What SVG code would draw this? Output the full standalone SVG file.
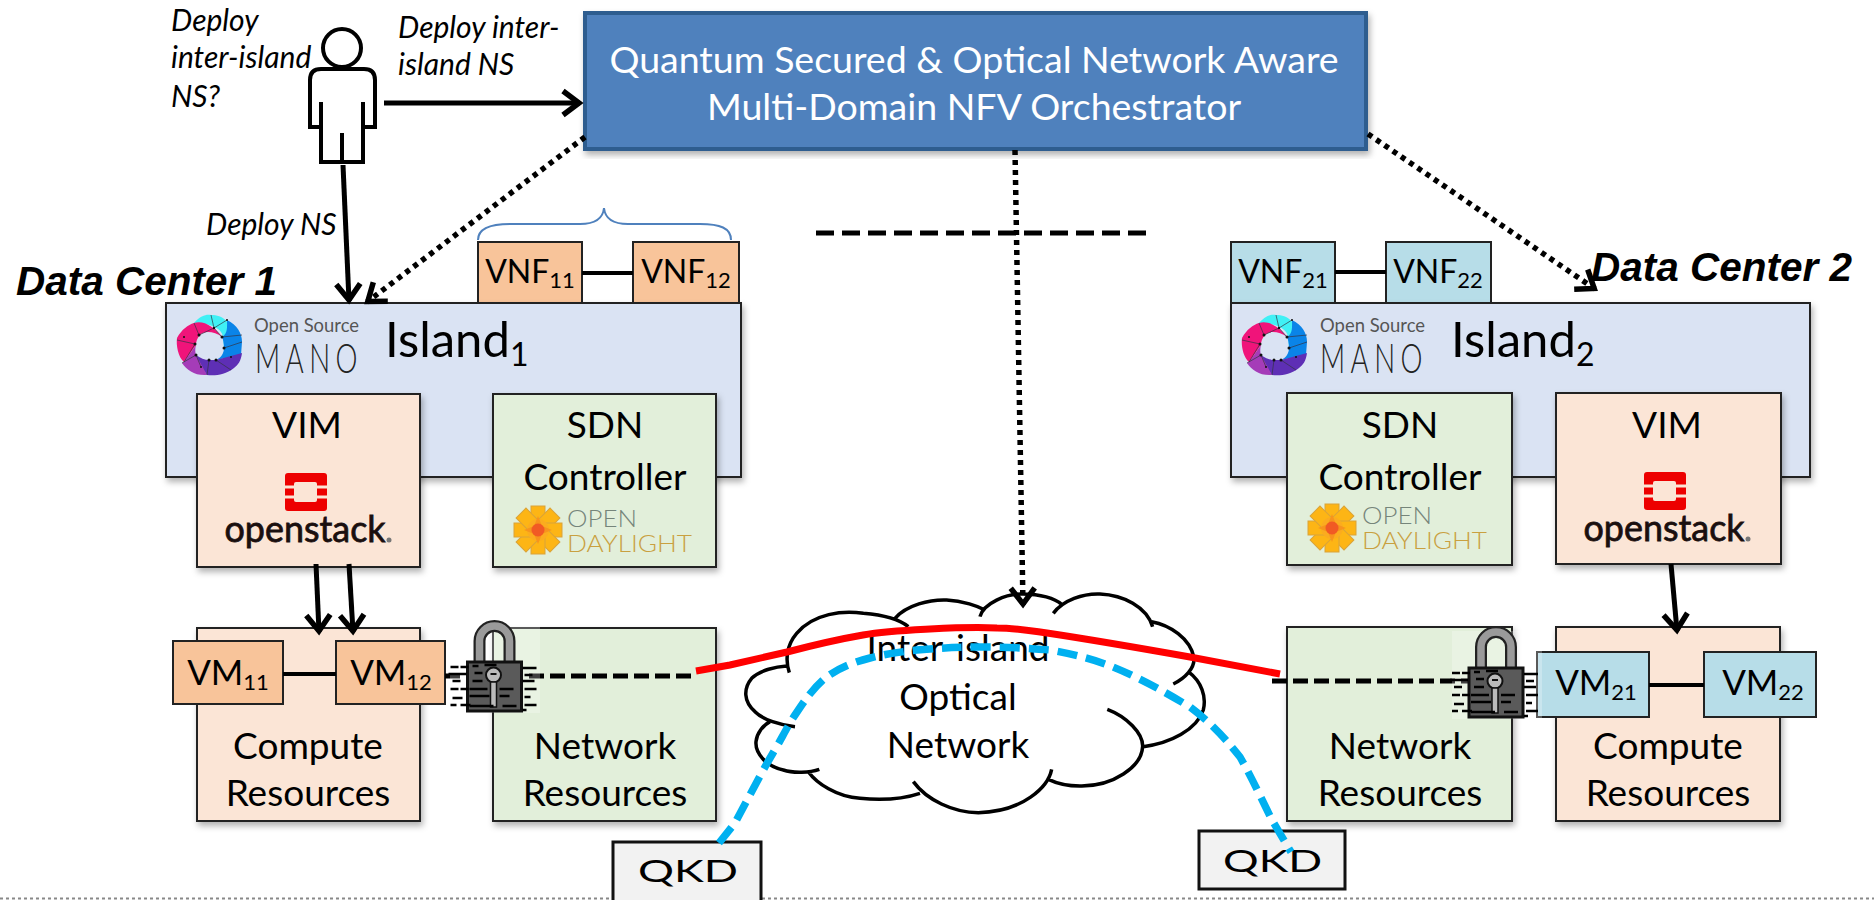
<svg xmlns="http://www.w3.org/2000/svg" width="1874" height="900" viewBox="0 0 1874 900">
<defs>
<style>
text{font-family:"Lato","Open Sans","Liberation Sans",sans-serif;fill:#000}
.l{font-size:37px;text-anchor:middle}
.v{font-size:32px;text-anchor:middle}
.m{font-size:35px;text-anchor:middle}
.i{font-size:30px;font-style:italic}
.b{font-family:"Liberation Sans",Arial,sans-serif;font-size:40.5px;font-weight:bold;font-style:italic}
.box{stroke:#222;stroke-width:2}
.island{fill:#dae3f3}.res{fill:#fbe5d6}.net{fill:#e2efda}.or{fill:#f8c49a}.bl{fill:#b7dde8}
.ln{fill:none;stroke:#000;stroke-width:5}
.th{fill:none;stroke:#000;stroke-width:4}
.dot{fill:none;stroke:#000;stroke-width:5.5;stroke-dasharray:5 5}
.dash{fill:none;stroke:#000;stroke-width:5;stroke-dasharray:15 6}
.cl{fill:none;stroke:#000;stroke-width:10.5;stroke-linecap:butt}
.sub{font-size:22px}
.os{font-size:19px;fill:#555}
.mn{font-size:41px;font-weight:300;letter-spacing:8px;fill:#222}
.is{font-size:49px}
.is2{font-size:32px}
.od1{font-size:23px;font-weight:300;fill:#76857a}
.od2{font-size:23px;font-weight:300;fill:#c9a040}
.ost{font-size:37px;text-anchor:middle;fill:#1a0f0f;stroke:#1a0f0f;stroke-width:.8}
.q{font-size:31px}
.qbox{fill:#f2f2f2;stroke:#111;stroke-width:3}
</style>
<marker id="a" markerUnits="userSpaceOnUse" markerWidth="34" markerHeight="34" refX="23" refY="13" orient="auto" overflow="visible"><path d="M6 1L22 13L6 25" fill="none" stroke="#000" stroke-width="5.5"/></marker>
<filter id="s" x="-5%" y="-5%" width="112%" height="112%"><feDropShadow dx="2" dy="4" stdDeviation="3" flood-color="#000" flood-opacity=".3"/></filter>
<g id="osm">
<path d="M14 -8C13 -18 -2 -22 -15 -22C-8 -30 -2 -31 2 -30C14 -30 22 -24 27 -3L15 3Z" fill="#40f0f5"/>
<path d="M18 -25C28 -20 33 -12 33 -3L32 10L7 15C12 13 15 8 15 3C15 -2 14 -6 13 -8C19 -12 18 -18 18 -25Z" fill="#0a84e8"/>
<path d="M0 15C4 15 6 15 7 15L33 8C32 16 29 20 25 23C16 30 6 31 -2 30L-8 22L-13 10C-9 13 -4 15 0 15Z" fill="#5e2fb5"/>
<path d="M-13 0C-14 4 -14 7 -13 10L-2 30C-14 31 -22 25 -27 18L-25 17Z" fill="#a53cb8"/>
<path d="M-32 -7C-27 -16 -21 -20 -15 -22C-5 -25 5 -18 13 -8C6 -13 -4 -15 -9 -10C-12 -7 -13 -3 -13 0L-25 17C-31 12 -33 0 -32 -7Z" fill="#f0147a"/>
<path d="M-32 -5L-14 -1L-25 17M-15 -22L-10 -10L5 -17L13 -8L33 -10M2 -30L5 -17L18 -25M15 3L33 -3M7 15L22 25M0 15L-2 30M-13 10L-27 18M-8 22L-13 10" fill="none" stroke="#334" stroke-width=".7"/>
<g fill="#111"><circle cx="-14" cy="-1" r="1.5"/><circle cx="-10" cy="-10" r="1.5"/><circle cx="5" cy="-17" r="1.2"/><circle cx="13" cy="-8" r="1.5"/><circle cx="15" cy="3" r="1.5"/><circle cx="7" cy="15" r="1.5"/><circle cx="0" cy="15" r="1.5"/><circle cx="-13" cy="10" r="1.5"/><circle cx="18" cy="-25" r="1"/><circle cx="22" cy="12" r="1"/><circle cx="-8" cy="22" r="1"/><circle cx="-25" cy="-8" r="1"/></g>
</g>
<g id="lock">
<path d="M-15 36V15A15 15 0 0 1 15 15V36" fill="none" stroke="#222" stroke-width="12"/>
<path d="M-15 36V15A15 15 0 0 1 15 15V36" fill="none" stroke="#9a9a9a" stroke-width="7.5"/>
<rect x="-27" y="36" width="54" height="49" fill="#5a5a5a" stroke="#111" stroke-width="3"/>
<circle cx="-1" cy="49" r="7.5" fill="#bbb" stroke="#111" stroke-width="2"/>
<path d="M-4 48h6" stroke="#111" stroke-width="2"/>
<rect x="-4" y="56" width="6" height="25" fill="#bbb" stroke="#111" stroke-width="1.5"/>
<path d="M-44 41h8M-34 41h8M-46 48h18M-42 55h8M-44 63h8M-34 63h8M-42 72h10M-44 79h6M-34 79h10M-22 40h6M-20 47h8M-22 55h10M-25 63h18M-25 70h20M-25 80h24M-10 39h12M5 63h14M5 70h10M8 80h14M28 42h14M30 49h8M28 55h12M30 63h12M30 71h6M30 79h12M28 84h4" stroke="#000" stroke-width="2.5" fill="none"/>
</g>
<g id="star">
<g fill="#fdb515" stroke="#d9a33a" stroke-width="1">
<rect x="-7" y="-24" width="14" height="17"/><rect x="-7" y="-24" width="14" height="17" transform="rotate(45)"/><rect x="-7" y="-24" width="14" height="17" transform="rotate(90)"/><rect x="-7" y="-24" width="14" height="17" transform="rotate(135)"/><rect x="-7" y="-24" width="14" height="17" transform="rotate(180)"/><rect x="-7" y="-24" width="14" height="17" transform="rotate(225)"/><rect x="-7" y="-24" width="14" height="17" transform="rotate(270)"/><rect x="-7" y="-24" width="14" height="17" transform="rotate(315)"/>
</g>
<circle r="11" fill="#fbac1f"/><path d="M0 -14L4 -4L14 0L4 4L0 14L-4 4L-14 0L-4 -4Z" fill="#f7941d"/><circle r="6.5" fill="#f15a24"/>
</g>
<g id="ostack">
<rect x="-21" y="-19" width="42" height="38" rx="3" fill="#ed0000"/>
<rect x="-12" y="-10" width="23" height="20" rx="2" fill="#fbe5d6"/>
<path d="M-21 -5H-12M-21 5H-12M11 -5H21M11 5H21" stroke="#fbe5d6" stroke-width="3"/>
</g>
</defs>
<path d="M0 898.5H1874" stroke="#888" stroke-width="2" stroke-dasharray="3 3"/>
<g id="orchestrator"><rect x="585" y="13" width="781" height="136" fill="#4f81bd" stroke="#2e5d8f" stroke-width="4" filter="url(#s)"/><text x="974" y="73" text-anchor="middle" font-size="37.5" style="fill:#fff">Quantum Secured &amp; Optical Network Aware</text><text x="974" y="120" text-anchor="middle" font-size="37.5" style="fill:#fff">Multi-Domain NFV Orchestrator</text></g>
<g id="user"><circle cx="342" cy="48" r="19" fill="none" stroke="#000" stroke-width="4"/><path d="M321 102V127H310V80Q310 69 321 69H364Q375 69 375 80V127H363V102M363 127V162H321V127M342 133V162" fill="none" stroke="#000" stroke-width="4"/></g>
<g id="labels"><text class="i" x="171" y="31">Deploy</text><text class="i" x="171" y="68">inter-island</text><text class="i" x="171" y="107">NS?</text><text class="i" x="398" y="38">Deploy inter-</text><text class="i" x="398" y="75">island NS</text><text class="i" x="206" y="235">Deploy NS</text><text class="b" x="16" y="295">Data Center 1</text><text class="b" x="1591" y="281">Data Center 2</text></g>
<g id="vnf11"><rect class="box or" x="478" y="242" width="104" height="61"/><text class="v" x="530" y="283">VNF<tspan class="sub" dy="5">11</tspan></text></g>
<g id="vnf12"><rect class="box or" x="633" y="242" width="106" height="61"/><text class="v" x="686" y="283">VNF<tspan class="sub" dy="5">12</tspan></text></g>
<g id="vnf21"><rect class="box bl" x="1231" y="242" width="104" height="61"/><text class="v" x="1283" y="283">VNF<tspan class="sub" dy="5">21</tspan></text></g>
<g id="vnf22"><rect class="box bl" x="1386" y="242" width="105" height="61"/><text class="v" x="1438" y="283">VNF<tspan class="sub" dy="5">22</tspan></text></g>
<path d="M478 240C478 228 490 224 510 224H580C595 224 603 218 604 208C605 218 613 224 628 224H700C720 224 731 228 731 240" fill="none" stroke="#4f81bd" stroke-width="2"/>
<g id="island1"><rect class="box island" x="166" y="303" width="575" height="174" filter="url(#s)"/><use href="#osm" x="209" y="345"/><text class="os" x="254" y="332" textLength="105" lengthAdjust="spacingAndGlyphs">Open Source</text><text class="mn" x="255" y="373" textLength="108" lengthAdjust="spacingAndGlyphs">MANO</text><text class="is" x="385" y="357">Island<tspan class="is2" dy="9">1</tspan></text></g>
<g id="island2"><rect class="box island" x="1231" y="303" width="579" height="174" filter="url(#s)"/><use href="#osm" x="1274" y="345"/><text class="os" x="1320" y="332" textLength="105" lengthAdjust="spacingAndGlyphs">Open Source</text><text class="mn" x="1320" y="373" textLength="108" lengthAdjust="spacingAndGlyphs">MANO</text><text class="is" x="1451" y="357">Island<tspan class="is2" dy="9">2</tspan></text></g>
<g id="vim1"><rect class="box res" x="197" y="394" width="223" height="173" filter="url(#s)"/><text class="l" x="307" y="438">VIM</text><use href="#ostack" x="306" y="492"/><text class="ost" x="305" y="542" textLength="161" lengthAdjust="spacingAndGlyphs">openstack</text><circle cx="389" cy="540" r="2.5" fill="#777"/></g>
<g id="vim2"><rect class="box res" x="1556" y="393" width="225" height="171" filter="url(#s)"/><text class="l" x="1667" y="438">VIM</text><use href="#ostack" x="1665" y="491"/><text class="ost" x="1664" y="541" textLength="161" lengthAdjust="spacingAndGlyphs">openstack</text><circle cx="1748" cy="539" r="2.5" fill="#777"/></g>
<g id="sdn1"><rect class="box net" x="493" y="394" width="223" height="173" filter="url(#s)"/><text class="l" x="605" y="438">SDN</text><text class="l" x="605" y="490">Controller</text><use href="#star" x="538" y="530"/><text class="od1" x="567" y="527" textLength="70" lengthAdjust="spacingAndGlyphs">OPEN</text><text class="od2" x="567" y="552" textLength="125" lengthAdjust="spacingAndGlyphs">DAYLIGHT</text></g>
<g id="sdn2"><rect class="box net" x="1287" y="393" width="225" height="172" filter="url(#s)"/><text class="l" x="1400" y="438">SDN</text><text class="l" x="1400" y="490">Controller</text><use href="#star" x="1332" y="528"/><text class="od1" x="1362" y="524" textLength="70" lengthAdjust="spacingAndGlyphs">OPEN</text><text class="od2" x="1362" y="549" textLength="125" lengthAdjust="spacingAndGlyphs">DAYLIGHT</text></g>
<g id="compute1"><rect class="box res" x="197" y="628" width="223" height="193" filter="url(#s)"/><text class="l" x="308" y="759">Compute</text><text class="l" x="308" y="806">Resources</text></g>
<g id="compute2"><rect class="box res" x="1556" y="627" width="224" height="194" filter="url(#s)"/><text class="l" x="1668" y="759">Compute</text><text class="l" x="1668" y="806">Resources</text></g>
<g id="network1"><rect class="box net" x="493" y="628" width="223" height="193" filter="url(#s)"/><text class="l" x="605" y="759">Network</text><text class="l" x="605" y="806">Resources</text></g>
<g id="network2"><rect class="box net" x="1287" y="627" width="225" height="194" filter="url(#s)"/><text class="l" x="1400" y="759">Network</text><text class="l" x="1400" y="806">Resources</text></g>
<g id="cloud">
<g transform="translate(730 570) scale(.3333)"><path class="cl" d="M178 308C165 270 170 225 200 190C250 130 340 120 400 130C460 135 510 150 535 170M495 145C530 105 600 88 650 90C700 92 745 110 760 118M750 140C760 100 830 70 880 72C930 72 975 85 995 103M970 130C1000 90 1060 70 1110 72C1180 75 1250 110 1268 170M1265 155C1320 165 1380 205 1392 262C1395 295 1365 325 1330 342M1375 305C1415 335 1430 380 1420 420C1400 480 1320 520 1240 530M1132 418C1190 440 1240 490 1238 530C1235 590 1150 650 1050 648C1010 648 980 640 955 628M965 598C955 650 880 725 745 728C670 728 590 690 550 635M570 670C510 690 440 690 390 685C320 680 260 640 235 605M268 598C240 608 190 610 160 600C110 590 75 550 78 515C80 490 100 465 120 455M195 470C150 465 100 450 75 425C40 395 40 355 65 325C90 300 140 290 170 288"/></g>
<text class="l" x="958" y="661">Inter-island</text><text class="l" x="958" y="710">Optical</text><text class="l" x="958" y="758">Network</text></g>
<g id="vm11"><rect class="box or" x="173" y="641" width="110" height="63"/><text class="m" x="228" y="685">VM<tspan class="sub" dy="5">11</tspan></text></g>
<g id="vm12"><rect class="box or" x="336" y="641" width="109" height="63"/><text class="m" x="391" y="685">VM<tspan class="sub" dy="5">12</tspan></text></g>
<g id="vm21"><rect class="box bl" x="1537" y="652" width="112" height="65"/><text class="m" x="1596" y="695">VM<tspan class="sub" dy="5">21</tspan></text></g>
<g id="vm22"><rect class="box bl" x="1704" y="652" width="112" height="65"/><text class="m" x="1763" y="695">VM<tspan class="sub" dy="5">22</tspan></text></g>
<g id="qkd1"><rect class="qbox" x="613" y="842" width="148" height="60"/><text class="q" x="638" y="882" textLength="100" lengthAdjust="spacingAndGlyphs">QKD</text></g>
<g id="qkd2"><rect class="qbox" x="1199" y="831" width="146" height="58"/><text class="q" x="1223" y="872" textLength="99" lengthAdjust="spacingAndGlyphs">QKD</text></g>
<g id="connectors">
<path class="ln" d="M384 103H580" marker-end="url(#a)"/>
<path class="ln" d="M343 165L349 301" marker-end="url(#a)"/>
<path class="dot" d="M585 137L367 302" marker-end="url(#a)"/>
<path class="dot" d="M1368 134L1595 289" marker-end="url(#a)"/>
<path class="dot" d="M1015 150L1023 605" marker-end="url(#a)"/>
<path class="dash" d="M816 233H1147" style="stroke-dasharray:18 8"/>
<path class="ln" d="M316 564L319 632" marker-end="url(#a)"/>
<path class="ln" d="M349 564L353 632" marker-end="url(#a)"/>
<path class="ln" d="M1671 564L1677 631" marker-end="url(#a)"/>
<path class="th" d="M582 273H633M1335 272H1386M283 674H336M1649 685H1704"/>
<path class="dash" d="M445 676H695M1272 681H1470"/>
<path d="M696 671L730 665L787 652C810 646 840 639 863 635C885 631 910 630 930 629C950 628 975 627 997 628C1015 628 1032 631 1047 633C1100 641 1145 649 1190 657L1280 674" fill="none" stroke="#f00" stroke-width="7"/>
<path d="M719 843L735 823C750 795 760 775 773 753C782 738 788 725 797 712C805 700 812 690 823 680C835 670 850 663 870 658C885 654 900 652 917 650C940 648 960 647 983 647C1005 647 1028 648 1050 650C1072 654 1093 659 1113 667C1140 678 1165 692 1190 707C1210 722 1225 738 1240 757C1252 778 1262 800 1272 820L1291 852" fill="none" stroke="#00b0f0" stroke-width="7.5" stroke-dasharray="20 9"/>
</g>
<rect x="450" y="625" width="90" height="88" fill="#fff" opacity=".25"/>
<rect x="1452" y="631" width="90" height="88" fill="#fff" opacity=".25"/>
<use id="lock1" href="#lock" x="494.5" y="626"/>
<use id="lock2" href="#lock" x="1496" y="632"/>
</svg>
